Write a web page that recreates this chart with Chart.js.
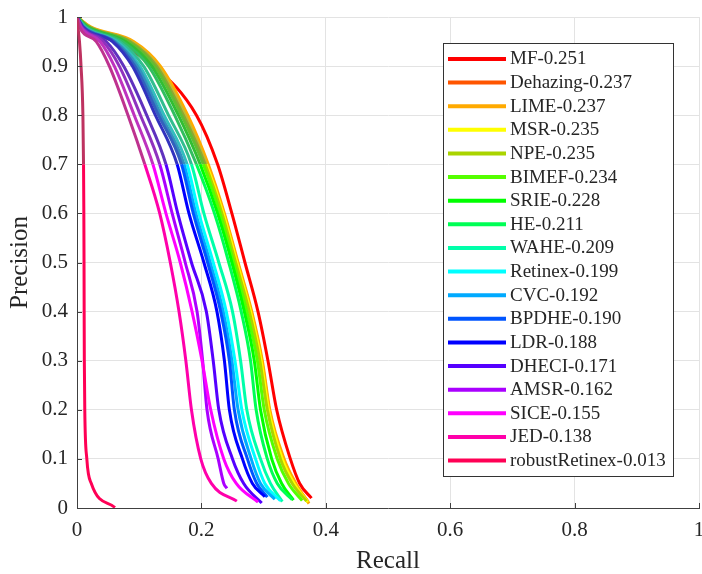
<!DOCTYPE html>
<html>
<head>
<meta charset="utf-8">
<title>Precision-Recall</title>
<script src="https://cdn.jsdelivr.net/npm/chart.js@4.4.0/dist/chart.umd.min.js"></script>
<style>
  html, body { margin: 0; padding: 0; background: #fff; }
  #wrap { width: 702px; height: 574px; position: relative; }
</style>
</head>
<body>
<div id="wrap"><canvas id="pr"></canvas></div>
<script>
// methods and their scores, in legend order
const methods = ['MF', 'Dehazing', 'LIME', 'MSR', 'NPE', 'BIMEF', 'SRIE', 'HE', 'WAHE',
  'Retinex', 'CVC', 'BPDHE', 'LDR', 'DHECI', 'AMSR', 'SICE', 'JED', 'robustRetinex'];
const scores = ['0.251', '0.237', '0.237', '0.235', '0.235', '0.234', '0.228', '0.211', '0.209',
  '0.199', '0.192', '0.190', '0.188', '0.171', '0.162', '0.155', '0.138', '0.013'];

// every curve is sampled at these precision levels; recall arrays follow the same order
const precisionLevels = [1, 0.98, 0.95, 0.9, 0.8, 0.7, 0.6, 0.5, 0.4, 0.3, 0.2, 0.1, 0.05];

const recallMF       = [0, 0.012, 0.060, 0.124, 0.192, 0.226, 0.249, 0.270, 0.291, 0.307, 0.321, 0.343, 0.358];
const recallDehazing = [0, 0.020, 0.088, 0.131, 0.176, 0.209, 0.236, 0.258, 0.280, 0.297, 0.309, 0.331, 0.350];
const recallLIME     = [0, 0.022, 0.091, 0.134, 0.178, 0.211, 0.237, 0.259, 0.281, 0.298, 0.310, 0.333, 0.352];
const recallMSR      = [0, 0.020, 0.087, 0.130, 0.174, 0.208, 0.235, 0.257, 0.279, 0.296, 0.308, 0.330, 0.349];
const recallNPE      = [0, 0.019, 0.085, 0.128, 0.171, 0.206, 0.233, 0.255, 0.277, 0.294, 0.306, 0.327, 0.346];
const recallBIMEF    = [0, 0.018, 0.082, 0.125, 0.168, 0.203, 0.230, 0.252, 0.273, 0.290, 0.301, 0.322, 0.340];
const recallSRIE     = [0, 0.017, 0.078, 0.120, 0.163, 0.198, 0.226, 0.249, 0.269, 0.285, 0.295, 0.313, 0.329];
const recallHE       = [0, 0.015, 0.073, 0.115, 0.157, 0.192, 0.221, 0.244, 0.264, 0.279, 0.288, 0.306, 0.322];
const recallWAHE     = [0, 0.013, 0.068, 0.107, 0.147, 0.184, 0.204, 0.228, 0.250, 0.263, 0.273, 0.295, 0.311];
const recallRetinex  = [0, 0.012, 0.064, 0.101, 0.140, 0.177, 0.196, 0.219, 0.240, 0.254, 0.265, 0.287, 0.302];
const recallCVC      = [0, 0.011, 0.061, 0.097, 0.135, 0.172, 0.191, 0.214, 0.235, 0.249, 0.259, 0.280, 0.295];
const recallBPDHE    = [0, 0.010, 0.059, 0.093, 0.131, 0.168, 0.187, 0.210, 0.231, 0.245, 0.253, 0.274, 0.289];
const recallLDR      = [0, 0.009, 0.057, 0.089, 0.126, 0.161, 0.180, 0.204, 0.225, 0.237, 0.245, 0.266, 0.282];
const recallDHECI    = [0, 0.008, 0.047, 0.075, 0.112, 0.143, 0.162, 0.184, 0.208, 0.219, 0.228, 0.250, 0.268];
const recallAMSR     = [0, 0.007, 0.042, 0.068, 0.102, 0.133, 0.153, 0.174, 0.193, 0.202, 0.209, 0.227, 0.236];
const recallSICE     = [0, 0.006, 0.037, 0.060, 0.092, 0.122, 0.143, 0.166, 0.185, 0.201, 0.215, 0.236, 0.256];
const recallJED      = [0, 0.004, 0.031, 0.052, 0.082, 0.109, 0.133, 0.150, 0.164, 0.175, 0.184, 0.199, 0.216];
const recallRobust   = [0, 0.0015, 0.004, 0.0065, 0.0095, 0.0105, 0.011, 0.0113, 0.0115, 0.0118, 0.0125, 0.0158, 0.023];

// last point of each curve (recall, precision)
const endRecall    = [0.377, 0.372, 0.373, 0.371, 0.369, 0.362, 0.348, 0.346, 0.330, 0.327, 0.318, 0.306, 0.302, 0.297, 0.241, 0.291, 0.257, 0.061];
const endPrecision = [0.020, 0.012, 0.009, 0.012, 0.014, 0.015, 0.016, 0.017, 0.013, 0.015, 0.018, 0.022, 0.023, 0.010, 0.040, 0.012, 0.014, 0.001];

const xTickValues = [0, 0.2, 0.4, 0.6, 0.8, 1];
const yTickValues = [0, 0.1, 0.2, 0.3, 0.4, 0.5, 0.6, 0.7, 0.8, 0.9, 1];

const colors = ['#ff0000', '#ff5500', '#ffaa00', '#ffff00', '#aad400', '#55ff00', '#00ff00', '#00ff55', '#00ffaa',
  '#00ffff', '#00aaff', '#0055ff', '#0000ff', '#5500ff', '#aa00ff', '#ff00ff', '#ff00aa', '#ff0055'];

const recallByMethod = [recallMF, recallDehazing, recallLIME, recallMSR, recallNPE, recallBIMEF, recallSRIE, recallHE,
  recallWAHE, recallRetinex, recallCVC, recallBPDHE, recallLDR, recallDHECI, recallAMSR, recallSICE, recallJED, recallRobust];

const serif = 'Liberation Serif, Times New Roman, serif';
const ink = '#262626';

// greyed-out tone used for the upper part of most curves
function fade(hex, k) {
  const n = parseInt(hex.slice(1), 16);
  const mix = v => Math.round(v * (1 - k) + 110 * k);
  return 'rgb(' + mix(n >> 16) + ',' + mix((n >> 8) & 255) + ',' + mix(n & 255) + ')';
}

const datasets = methods.map((name, i) => {
  const pts = precisionLevels.map((p, k) => ({ x: recallByMethod[i][k], y: p }));
  pts.push({ x: endRecall[i], y: endPrecision[i] });
  const faded = fade(colors[i], 0.45);
  return {
    label: name + '-' + scores[i],
    data: pts,
    borderColor: colors[i],
    borderWidth: 3,
    pointRadius: 0,
    showLine: true,
    fill: false,
    cubicInterpolationMode: 'monotone',
    order: methods.length - i, // later methods are painted on top
    segment: {
      borderColor: ctx => (i >= 3 && ctx.p1.parsed.y >= 0.7) ? faded : undefined
    }
  };
});

// short tick marks pointing into the plot
const innerTicks = {
  id: 'innerTicks',
  afterDatasetsDraw(chart) {
    const { ctx, chartArea: a, scales } = chart;
    ctx.save();
    ctx.strokeStyle = '#404040';
    ctx.lineWidth = 1;
    ctx.beginPath();
    xTickValues.forEach(v => {
      const px = Math.round(scales.x.getPixelForValue(v)) + 0.5;
      ctx.moveTo(px, a.bottom);
      ctx.lineTo(px, a.bottom - 5);
    });
    yTickValues.forEach(v => {
      const py = Math.round(scales.y.getPixelForValue(v)) + 0.5;
      ctx.moveTo(a.left, py);
      ctx.lineTo(a.left + 5, py);
    });
    ctx.stroke();
    ctx.restore();
  }
};

// boxed legend in the upper right of the plot
const boxLegend = {
  id: 'boxLegend',
  afterDraw(chart) {
    const ctx = chart.ctx;
    const left = 443.5, top = 43.5, w = 230, h = 433;
    ctx.save();
    ctx.fillStyle = '#fff';
    ctx.fillRect(left, top, w, h);
    ctx.strokeStyle = '#333';
    ctx.lineWidth = 1;
    ctx.strokeRect(left, top, w, h);
    ctx.font = '19px ' + serif;
    ctx.textBaseline = 'middle';
    chart.data.datasets.forEach((ds, i) => {
      const y = 59 + i * 23.62;
      ctx.strokeStyle = ds.borderColor;
      ctx.lineWidth = 4;
      ctx.beginPath();
      ctx.moveTo(448, y);
      ctx.lineTo(506, y);
      ctx.stroke();
      ctx.fillStyle = ink;
      ctx.fillText(ds.label, 510, y + 0.5);
    });
    ctx.restore();
  }
};

new Chart(document.getElementById('pr'), {
  type: 'scatter',
  data: { datasets },
  options: {
    responsive: true,
    maintainAspectRatio: false,
    animation: false,
    layout: { padding: { top: 17, right: 3, left: 0, bottom: 0 } },
    plugins: {
      legend: { display: false },
      tooltip: { enabled: false }
    },
    scales: {
      x: {
        type: 'linear',
        min: 0,
        max: 1,
        afterBuildTicks: s => { s.ticks = xTickValues.map(v => ({ value: v })); },
        afterFit: s => { s.height = 66; s.paddingLeft = 0; s.paddingRight = 0; },
        ticks: {
          callback: v => String(v),
          font: { family: serif, size: 21 },
          color: ink,
          padding: 10,
          maxRotation: 0
        },
        grid: { color: '#e3e3e3', drawTicks: false },
        border: { color: '#404040', width: 1 },
        title: {
          display: true,
          text: 'Recall',
          color: ink,
          font: { family: serif, size: 25, lineHeight: 1 },
          padding: { top: 0, bottom: 0 }
        }
      },
      y: {
        type: 'linear',
        min: 0,
        max: 1,
        afterBuildTicks: s => { s.ticks = yTickValues.map(v => ({ value: v })); },
        afterFit: s => { s.width = 77; s.paddingTop = 0; s.paddingBottom = 0; },
        ticks: {
          callback: v => String(v),
          font: { family: serif, size: 21 },
          color: ink,
          padding: 9
        },
        grid: { color: '#e3e3e3', drawTicks: false },
        border: { color: '#404040', width: 1 },
        title: {
          display: true,
          text: 'Precision',
          color: ink,
          font: { family: serif, size: 25, lineHeight: 1 },
          padding: { top: 7.5, bottom: 0 }
        }
      }
    }
  },
  plugins: [innerTicks, boxLegend]
});
</script>
</body>
</html>
